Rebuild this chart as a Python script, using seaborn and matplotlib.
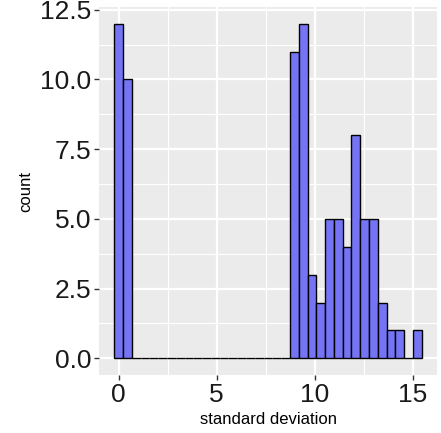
import numpy as np
import pandas as pd
import matplotlib
matplotlib.use("Agg")
import matplotlib.pyplot as plt
import seaborn as sns
from matplotlib.ticker import MultipleLocator

# Histogram of standard deviations: bin centres and counts per bin
bin_width = 0.448
bin_index = list(range(35))
bin_counts = [12, 10, 0, 0, 0, 0, 0, 0, 0, 0,
              0, 0, 0, 0, 0, 0, 0, 0, 0, 0,
              11, 12, 3, 2, 5, 5, 4, 8, 5, 5,
              2, 1, 1, 0, 1]
x_ticks = [0, 5, 10, 15]
y_ticks = [0.0, 2.5, 5.0, 7.5, 10.0, 12.5]

centers = np.array(bin_index) * bin_width
lo = centers[0] - bin_width / 2
hi = centers[-1] + bin_width / 2
df = pd.DataFrame({"sd": centers, "n": bin_counts})

sns.set_theme(style="darkgrid")
plt.rcParams["font.family"] = ["Liberation Sans", "DejaVu Sans"]

fig = plt.figure(figsize=(4.41, 4.33), dpi=100)
ax = fig.add_axes([99 / 441, (433 - 375) / 433, (437 - 99) / 441, (375 - 7) / 433])
ax.set_facecolor("#EBEBEB")

sns.histplot(data=df, x="sd", weights="n", bins=len(bin_index), binrange=(lo, hi),
             ax=ax, color="#7474F4", alpha=1.0, edgecolor="black", linewidth=1.0)

pad = (hi - lo) * 0.05
ax.set_xlim(lo - pad, hi + pad)
ax.set_ylim(-0.6, 12.6)

ax.xaxis.set_minor_locator(MultipleLocator(2.5))
ax.yaxis.set_minor_locator(MultipleLocator(1.25))
ax.set_xticks(x_ticks)
ax.set_yticks(y_ticks)
ax.set_xticklabels([str(t) for t in x_ticks])
ax.set_yticklabels([f"{t:.1f}" for t in y_ticks])

ax.grid(which="major", color="white", linewidth=1.6)
ax.grid(which="minor", color="white", linewidth=0.8)
ax.set_axisbelow(True)
for s in ax.spines.values():
    s.set_visible(False)

ax.tick_params(axis="both", which="major", length=3.5, width=1.0, color="#333333",
               labelsize=19, labelcolor="#1a1a1a", pad=2, bottom=True, left=True)
ax.tick_params(axis="both", which="minor", length=0)

ax.set_xlabel("standard deviation", fontsize=12, color="black", labelpad=4)
ax.set_ylabel("count", fontsize=12, color="black", labelpad=5)

fig.savefig("out.png", dpi=100)
